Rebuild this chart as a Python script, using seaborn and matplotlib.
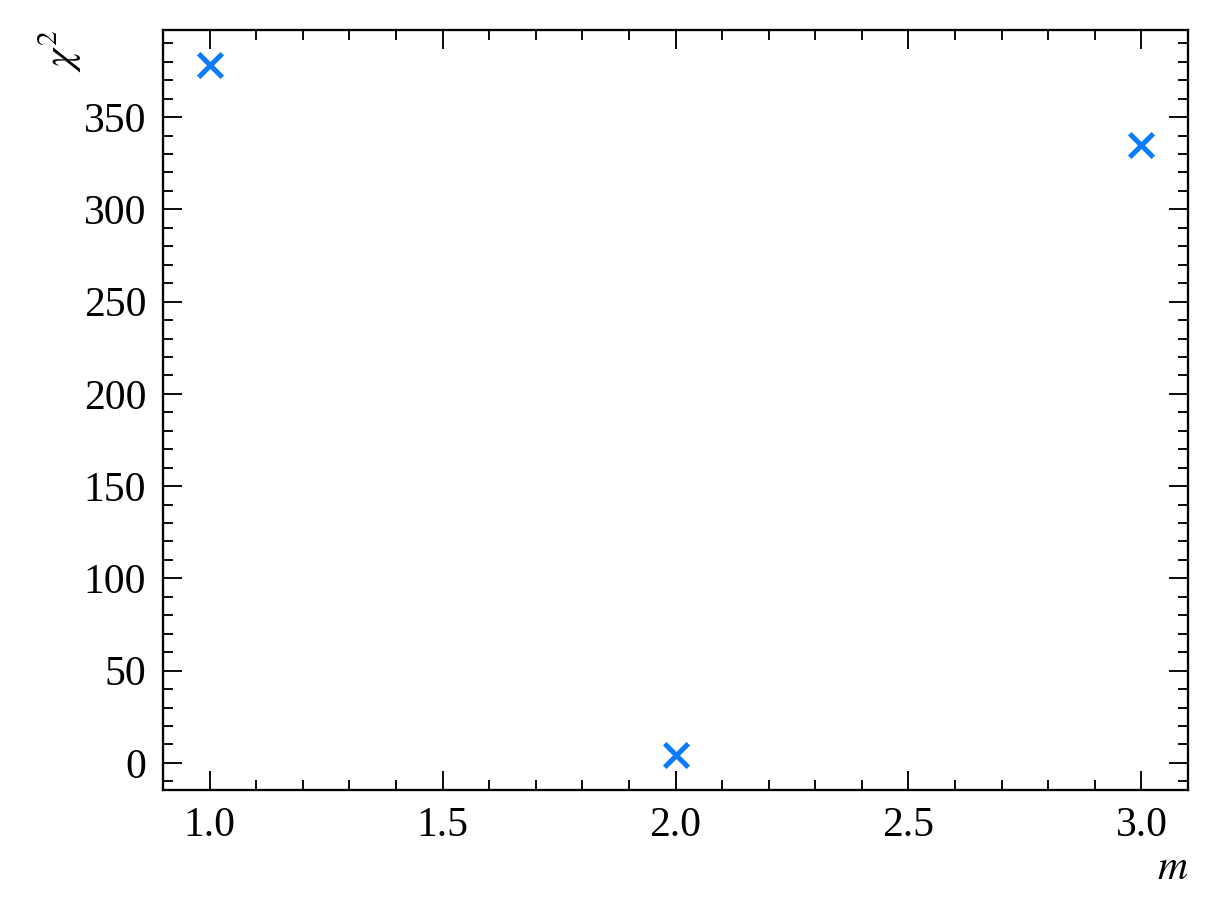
import matplotlib
matplotlib.use("Agg")
import matplotlib.pyplot as plt
import seaborn as sns
import pandas as pd
from matplotlib.ticker import AutoMinorLocator

m_values = [1, 2, 3]
chi2_values = [378.5, 4.0, 335.0]

sns.set_theme(style="ticks")
plt.rcParams["font.family"] = ["Liberation Serif", "DejaVu Serif"]
plt.rcParams["mathtext.fontset"] = "stix"
plt.rcParams["font.size"] = 10
plt.rcParams["xtick.labelsize"] = 10
plt.rcParams["ytick.labelsize"] = 10
plt.rcParams["axes.labelsize"] = 10
plt.rcParams["text.color"] = "black"
plt.rcParams["axes.labelcolor"] = "black"
plt.rcParams["xtick.color"] = "black"
plt.rcParams["ytick.color"] = "black"
plt.rcParams["axes.edgecolor"] = "black"

df = pd.DataFrame({"m": m_values, "chi2": chi2_values})

fig = plt.figure(figsize=(4.06, 3.06), dpi=300)
ax = fig.add_axes([0.1338, 0.1394, 0.9754 - 0.1338, 0.9673 - 0.1394])

sns.scatterplot(data=df, x="m", y="chi2", marker="x", s=32, color="#0A7CFF",
                linewidth=1.2, ax=ax, legend=False)

for sp in ax.spines.values():
    sp.set_linewidth(0.55)
    sp.set_color("black")

ax.xaxis.set_minor_locator(AutoMinorLocator(5))
ax.yaxis.set_minor_locator(AutoMinorLocator(5))
ax.tick_params(which="both", direction="in", top=True, right=True, color="black",
               labelcolor="black", width=0.45)
ax.tick_params(which="major", length=4.5, pad=4)
ax.tick_params(which="minor", length=2.4)

ax.set_xlabel(r"$m$", loc="right", labelpad=1)
ax.set_ylabel(r"$\chi^2$", loc="top", labelpad=0)

fig.savefig("out.png", dpi=300)
